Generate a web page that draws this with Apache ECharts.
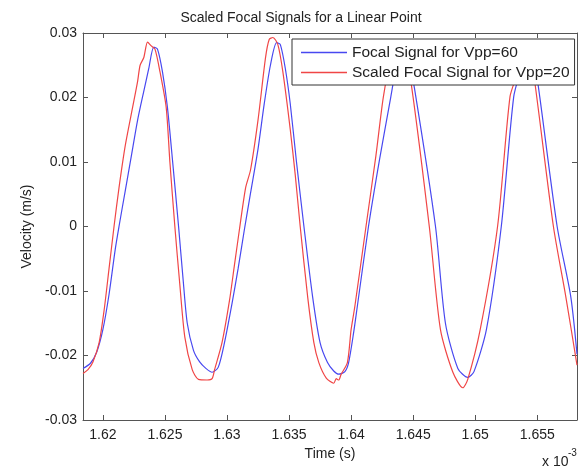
<!DOCTYPE html>
<html>
<head>
<meta charset="utf-8">
<title>Scaled Focal Signals</title>
<script src="https://cdn.jsdelivr.net/npm/echarts@6/dist/echarts.min.js"></script>
<style>
  html, body { margin: 0; padding: 0; background: #fff; }
  #chart { width: 581px; height: 469px; }
</style>
</head>
<body>
<div id="chart"></div>
<script>
// time in units of 1e-3 s, velocity in m/s
const tBlue = [1.6184, 1.6190, 1.6195, 1.6200, 1.6205, 1.6210, 1.6213, 1.6218, 1.6223, 1.6228,
  1.6233, 1.6237, 1.6241, 1.6244, 1.6248, 1.6252, 1.6256, 1.6261, 1.6265, 1.6268,
  1.6273, 1.6278, 1.6283, 1.6288, 1.6293, 1.6298, 1.6304, 1.6309, 1.6314, 1.6319,
  1.6325, 1.6330, 1.6335, 1.6340, 1.6343, 1.6347, 1.6351, 1.6356, 1.6362, 1.6369,
  1.6375, 1.6381, 1.6386, 1.6390, 1.6395, 1.6398, 1.6402, 1.6405, 1.6414, 1.6423,
  1.6432, 1.6437, 1.6441, 1.6446, 1.6451, 1.6468, 1.6476, 1.6486, 1.6494, 1.6499,
  1.6509, 1.6521, 1.6531, 1.6537, 1.6542, 1.6549, 1.6552, 1.6566, 1.6577, 1.6582];
const vBlue = [-0.0220, -0.0212, -0.0195, -0.0160, -0.0105, -0.0035, 0.0000, 0.0055, 0.0110, 0.0165,
  0.0210, 0.0245, 0.0278, 0.0275, 0.0240, 0.0185, 0.0105, 0.0000, -0.0090, -0.0150,
  -0.0192, -0.0210, -0.0220, -0.0226, -0.0218, -0.0180, -0.0120, -0.0065, -0.0005, 0.0052,
  0.0120, 0.0190, 0.0250, 0.0285, 0.0282, 0.0245, 0.0190, 0.0100, 0.0000, -0.0109,
  -0.0180, -0.0211, -0.0224, -0.0229, -0.0225, -0.0211, -0.0165, -0.0124, 0.0000, 0.0105,
  0.0201, 0.0255, 0.0280, 0.0262, 0.0215, 0.0000, -0.0150, -0.0220, -0.0234, -0.0225,
  -0.0160, 0.0000, 0.0201, 0.0245, 0.0280, 0.0238, 0.0201, 0.0000, -0.0109, -0.0198];

const tRed = [1.6184, 1.6188, 1.6192, 1.6197, 1.6201, 1.6205, 1.6209, 1.6213, 1.6218, 1.6224,
  1.6228, 1.6230, 1.6233, 1.6236, 1.6239, 1.6242, 1.6246, 1.6251, 1.6254, 1.6258,
  1.6262, 1.6266, 1.6272, 1.6277, 1.6284, 1.6288, 1.6290, 1.6296, 1.6302, 1.6306,
  1.6310, 1.6315, 1.6319, 1.6325, 1.6331, 1.6334, 1.6337, 1.6341, 1.6345, 1.6351,
  1.6355, 1.6359, 1.6365, 1.6370, 1.6374, 1.6380, 1.6386, 1.6388, 1.6390, 1.6392,
  1.6397, 1.6400, 1.6403, 1.6412, 1.6420, 1.6426, 1.6433, 1.6437, 1.6442, 1.6448,
  1.6463, 1.6472, 1.6482, 1.6490, 1.6494, 1.6504, 1.6518, 1.6528, 1.6534, 1.6539,
  1.6544, 1.6547, 1.6563, 1.6573, 1.6582];
const vRed = [-0.0228, -0.0222, -0.0210, -0.0180, -0.0130, -0.0065, 0.0000, 0.0060, 0.0125, 0.0185,
  0.0225, 0.0250, 0.0262, 0.0286, 0.0280, 0.0275, 0.0240, 0.0185, 0.0100, 0.0000,
  -0.0090, -0.0171, -0.0222, -0.0237, -0.0238, -0.0236, -0.0222, -0.0180, -0.0115, -0.0060,
  -0.0005, 0.0060, 0.0088, 0.0165, 0.0261, 0.0290, 0.0293, 0.0282, 0.0240, 0.0150,
  0.0080, 0.0000, -0.0109, -0.0180, -0.0211, -0.0235, -0.0243, -0.0236, -0.0238, -0.0229,
  -0.0211, -0.0160, -0.0124, 0.0000, 0.0110, 0.0201, 0.0270, 0.0288, 0.0275, 0.0227,
  0.0000, -0.0160, -0.0226, -0.0250, -0.0237, -0.0160, 0.0000, 0.0201, 0.0238, 0.0286,
  0.0260, 0.0238, 0.0000, -0.0109, -0.0215];

const seriesNames = ['Focal Signal for Vpp=60', 'Scaled Focal Signal for Vpp=20'];
const yTicks = { min: -0.03, max: 0.03, step: 0.01 };
const xRange = { min: 1.6184, max: 1.6582 };

const pairs = (t, v) => t.map((x, i) => [x, v[i]]);
const font = 'Liberation Sans, Arial, sans-serif';
const axisColor = '#555';

const chart = echarts.init(document.getElementById('chart'));

const tickInside = { show: true, inside: true, length: 5, lineStyle: { color: axisColor } };
const xBase = {
  type: 'value',
  min: xRange.min,
  max: xRange.max,
  splitNumber: 8,
  splitLine: { show: false },
  axisLine: { show: true, onZero: false, lineStyle: { color: axisColor, width: 1 } },
  axisTick: tickInside,
};
const yBase = {
  type: 'value',
  min: yTicks.min,
  max: yTicks.max,
  interval: yTicks.step,
  splitLine: { show: false },
  axisLine: { show: true, onZero: false, lineStyle: { color: axisColor, width: 1 } },
  axisTick: tickInside,
};

const option = {
  animation: false,
  backgroundColor: '#fff',
  textStyle: { fontFamily: font },
  title: {
    text: 'Scaled Focal Signals for a Linear Point',
    left: 296,
    top: 6,
    textAlign: 'center',
    textStyle: { fontFamily: font, fontSize: 14, fontWeight: 'normal', color: '#222' },
  },
  grid: { left: 83, top: 33, right: 4, bottom: 49, containLabel: false },
  legend: {
    data: seriesNames,
    orient: 'vertical',
    left: 292,
    top: 39,
    icon: 'rect',
    itemWidth: 46,
    itemHeight: 1.5,
    itemGap: 3,
    padding: [5, 5, 4, 9],
    backgroundColor: '#fff',
    borderColor: '#333',
    borderWidth: 1,
    borderRadius: 0,
    textStyle: { fontFamily: font, fontSize: 15.5, color: '#222', lineHeight: 17 },
  },
  xAxis: [
    Object.assign({}, xBase, {
      position: 'bottom',
      name: 'Time (s)',
      nameLocation: 'middle',
      nameGap: 26,
      nameTextStyle: { fontFamily: font, fontSize: 14, color: '#222' },
      axisLabel: {
        show: true, margin: 8, fontFamily: font, fontSize: 14, color: '#222',
        showMinLabel: false, showMaxLabel: false,
        formatter: v => String(+v.toFixed(4)),
      },
    }),
    Object.assign({}, xBase, { position: 'top', axisLabel: { show: false } }),
  ],
  yAxis: [
    Object.assign({}, yBase, {
      position: 'left',
      name: 'Velocity (m/s)',
      nameLocation: 'middle',
      nameGap: 40,
      nameTextStyle: { fontFamily: font, fontSize: 14, color: '#222' },
      axisLabel: {
        show: true, margin: 6, fontFamily: font, fontSize: 14, color: '#222',
        formatter: v => String(+v.toFixed(2)),
      },
    }),
    Object.assign({}, yBase, { position: 'right', axisLabel: { show: false } }),
  ],
  graphic: [
    { type: 'text', left: 542, top: 455, style: { text: 'x 10', font: '14px ' + font, fill: '#222' } },
    { type: 'text', left: 568, top: 448, style: { text: '-3', font: '10px ' + font, fill: '#222' } },
  ],
  series: [
    {
      name: seriesNames[0],
      type: 'line',
      data: pairs(tBlue, vBlue),
      showSymbol: false,
      smooth: 0.25,
      lineStyle: { color: '#4848f0', width: 1.2 },
      itemStyle: { color: '#4848f0' },
    },
    {
      name: seriesNames[1],
      type: 'line',
      data: pairs(tRed, vRed),
      showSymbol: false,
      smooth: 0.25,
      lineStyle: { color: '#f04646', width: 1.2 },
      itemStyle: { color: '#f04646' },
    },
  ],
};

chart.setOption(option);
</script>
</body>
</html>
